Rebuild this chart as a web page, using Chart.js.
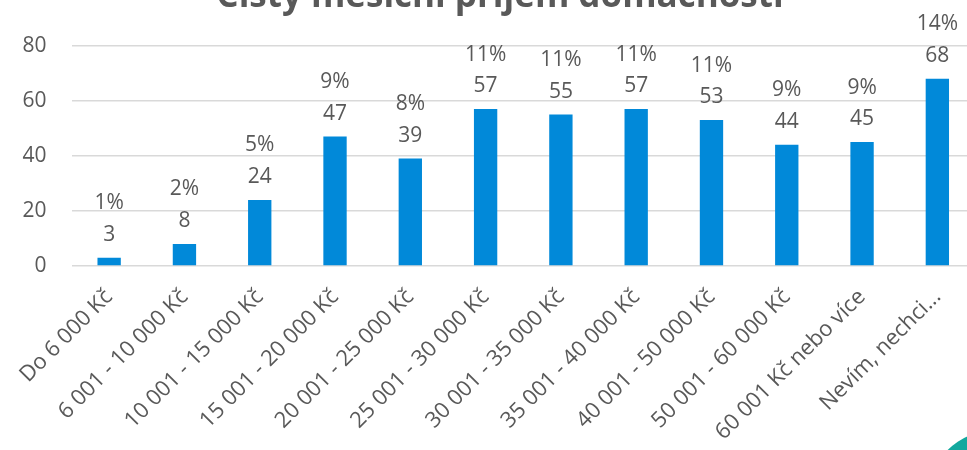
<!DOCTYPE html>
<html>
<head>
<meta charset="utf-8">
<script src="https://cdn.jsdelivr.net/npm/chart.js@4"></script>
<style>
  html, body { margin: 0; padding: 0; background: #fff; overflow: hidden; width: 967px; height: 450px; }
  #wrap { position: absolute; left: 0; top: 0; width: 1000px; height: 450px; }
  #deco { position: absolute; left: 924px; top: 429px; width: 152px; height: 152px; border-radius: 50%; background: #12a89e; }
</style>
</head>
<body>
<div id="wrap"><canvas id="c"></canvas></div>
<div id="deco"></div>
<script>
const chartTitle = 'Čistý měsíční příjem domácností';
const categories = [
  'Do 6 000 Kč', '6 001 - 10 000 Kč', '10 001 - 15 000 Kč', '15 001 - 20 000 Kč',
  '20 001 - 25 000 Kč', '25 001 - 30 000 Kč', '30 001 - 35 000 Kč', '35 001 - 40 000 Kč',
  '40 001 - 50 000 Kč', '50 001 - 60 000 Kč', '60 001 Kč nebo více', 'Nevím, nechci...'
];
const counts = [3, 8, 24, 47, 39, 57, 55, 57, 53, 44, 45, 68];
const shares = [1, 2, 5, 9, 8, 11, 11, 11, 11, 9, 9, 14];
const yTickValues = [0, 20, 40, 60, 80];

const TEXT = '#595959';
const FONT = '"Open Sans", "Noto Sans", sans-serif';

// Title sits mostly above the top edge of the canvas
const titlePlugin = {
  id: 'topTitle',
  afterDraw(chart) {
    const ctx = chart.ctx;
    ctx.save();
    ctx.font = 'bold 35px ' + FONT;
    ctx.fillStyle = TEXT;
    ctx.textAlign = 'center';
    ctx.textBaseline = 'alphabetic';
    ctx.fillText(chartTitle, 500, 6.7);
    ctx.restore();
  }
};

// Two-line labels above each bar: share on top, count below
const barLabels = {
  id: 'barLabels',
  afterDatasetsDraw(chart) {
    const ctx = chart.ctx;
    const meta = chart.getDatasetMeta(0);
    ctx.save();
    ctx.font = '21px ' + FONT;
    ctx.fillStyle = TEXT;
    ctx.textAlign = 'center';
    ctx.textBaseline = 'alphabetic';
    meta.data.forEach((bar, i) => {
      const base = bar.y - 17;
      ctx.fillText(String(counts[i]), bar.x, base);
      ctx.fillText(shares[i] + '%', bar.x, base - 31.5);
    });
    ctx.restore();
  }
};

function build() {
  new Chart(document.getElementById('c'), {
    type: 'bar',
    data: {
      labels: categories,
      datasets: [{
        data: counts,
        backgroundColor: '#0189d9',
        borderWidth: 0,
        categoryPercentage: 1,
        barPercentage: 0.31
      }]
    },
    options: {
      responsive: true,
      maintainAspectRatio: false,
      animation: false,
      layout: { padding: { top: 45.7, right: 25, left: 0, bottom: 0 } },
      plugins: {
        legend: { display: false },
        title: { display: false },
        tooltip: { enabled: false }
      },
      scales: {
        x: {
          grid: { display: false },
          border: { display: false },
          ticks: {
            color: TEXT,
            font: { family: FONT, size: 22 },
            minRotation: 45,
            maxRotation: 45,
            autoSkip: false,
            padding: 10
          },
          afterFit(scale) { scale.height = 184; }
        },
        y: {
          min: 0,
          max: 80,
          afterBuildTicks(scale) { scale.ticks = yTickValues.map(v => ({ value: v })); },
          ticks: {
            color: TEXT,
            font: { family: FONT, size: 21 },
            padding: 25
          },
          grid: { color: '#d9d9d9', lineWidth: 1.5, drawTicks: false },
          border: { display: false },
          afterFit(scale) { scale.width = 71.5; }
        }
      }
    },
    plugins: [titlePlugin, barLabels]
  });
}

Promise.all([
  document.fonts.load('22px "Open Sans"'),
  document.fonts.load('bold 35px "Open Sans"')
]).then(build, build);
</script>
</body>
</html>
